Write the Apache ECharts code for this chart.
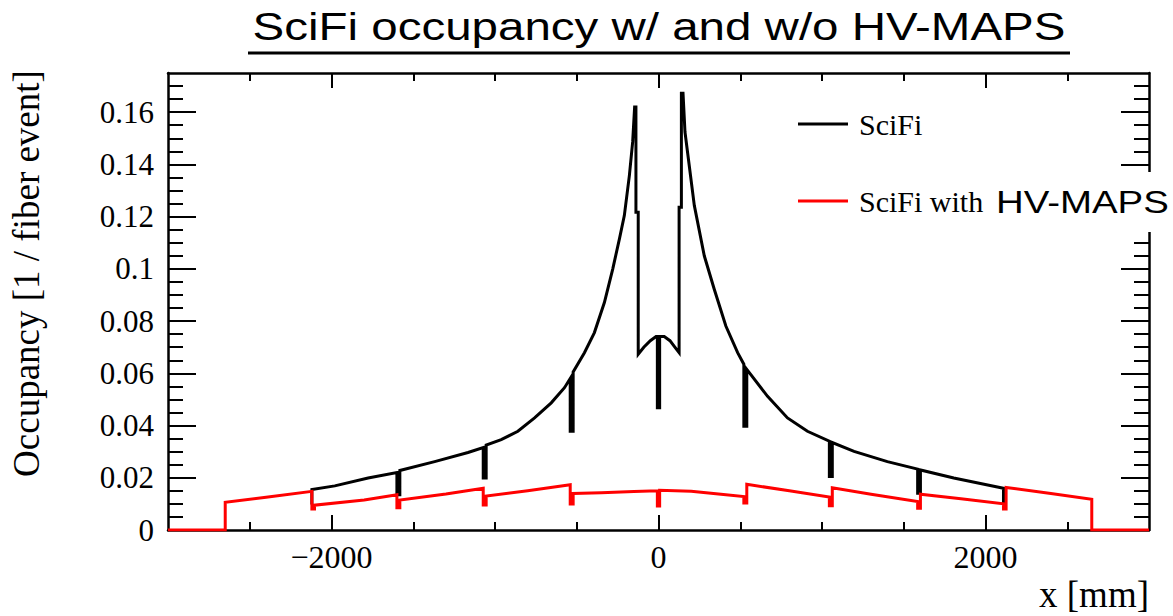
<!DOCTYPE html>
<html>
<head>
<meta charset="utf-8">
<script src="https://cdn.jsdelivr.net/npm/echarts@6/dist/echarts.min.js"></script>
<style>
  html, body { margin: 0; padding: 0; background: #fff; }
  #chart { width: 1173px; height: 616px; }
</style>
</head>
<body>
<div id="chart"></div>
<script>
// ---- data ----
const titleText = 'SciFi occupancy w/ and w/o HV-MAPS';
const seriesNames = ['SciFi', 'SciFi with'];
const overlayText = 'HV-MAPS';

const xMajorTicks = [-2000, 0, 2000];
const xMinorTicks = [-2500, -1500, -1000, -500, 500, 1000, 1500, 2500];
const yMajorTicks = [0, 0.02, 0.04, 0.06, 0.08, 0.1, 0.12, 0.14, 0.16];
const yMinorTicks = [0.005, 0.01, 0.015, 0.025, 0.03, 0.035, 0.045, 0.05, 0.055,
  0.065, 0.07, 0.075, 0.085, 0.09, 0.095, 0.105, 0.11, 0.115, 0.125, 0.13, 0.135,
  0.145, 0.15, 0.155, 0.165, 0.17];

// SciFi (black) outline: x [mm]
const blackX = [-2120, -2120, -1980, -1776, -1600, -1600, -1582, -1582, -1369, -1165,
  -1072, -1072, -1054, -1054, -962, -860, -758, -656, -575, -540, -540, -522, -522,
  -453, -392, -331, -280, -239, -209, -178, -158, -146, -138, -138, -124, -124,
  -90, -50, -15, -7, -7, 7, 7, 35, 70, 100, 126, 126, 140, 140, 150, 162, 219, 280,
  341, 412, 484, 522, 522, 540, 540, 667, 789, 911, 1045, 1045, 1063, 1063, 1196,
  1400, 1585, 1585, 1602, 1602, 1806, 2110, 2110];
// SciFi (black) occupancy
const blackY = [0.0098, 0.0155, 0.0169, 0.0199, 0.0220, 0.0135, 0.0135, 0.0228, 0.0262, 0.0297,
  0.0316, 0.0199, 0.0199, 0.0325, 0.0346, 0.0378, 0.0429, 0.0487, 0.0545, 0.0580, 0.0378, 0.0378, 0.0605,
  0.0679, 0.0756, 0.0871, 0.0999, 0.1115, 0.1204, 0.1358, 0.1486, 0.1620, 0.1620, 0.1217, 0.1217, 0.0673,
  0.0700, 0.0725, 0.0741, 0.0741, 0.0468, 0.0468, 0.0741, 0.0741, 0.0725, 0.0700, 0.0679, 0.1236, 0.1236, 0.1672, 0.1672, 0.1524, 0.1243, 0.1050,
  0.0922, 0.0781, 0.0679, 0.0635, 0.0397, 0.0397, 0.0615, 0.0512, 0.0429, 0.0378, 0.0340, 0.0205, 0.0205, 0.0335, 0.0301,
  0.0262, 0.0233, 0.0141, 0.0141, 0.0230, 0.0199, 0.0160, 0.0100];

// SciFi with HV-MAPS (red) outline: x [mm]
const redX = [-3000, -2650, -2650, -2400, -2120, -2120, -2104, -2104, -1800, -1600, -1600,
  -1582, -1582, -1300, -1072, -1072, -1054, -1054, -800, -540, -540, -522, -522,
  -350, -150, -7, -7, 7, 7, 200, 382, 522, 522, 540, 540, 800, 1045, 1045, 1063,
  1063, 1300, 1585, 1585, 1602, 1602, 1850, 2110, 2110, 2126, 2126, 2400, 2650, 2650, 3000];
// SciFi with HV-MAPS (red) occupancy
const redY = [0, 0, 0.0106, 0.0125, 0.0148, 0.0080, 0.0080, 0.0095, 0.0115, 0.0135, 0.0085,
  0.0085, 0.0115, 0.0138, 0.0160, 0.0096, 0.0096, 0.0130, 0.0150, 0.0173, 0.0100, 0.0100, 0.0140,
  0.0143, 0.0147, 0.0150, 0.0092, 0.0092, 0.0152, 0.0148, 0.0137, 0.0128, 0.0103, 0.0103, 0.0175, 0.0150, 0.0126, 0.0093, 0.0093,
  0.0162, 0.0137, 0.0109, 0.0083, 0.0083, 0.0137, 0.0120, 0.0100, 0.0080, 0.0080, 0.0163, 0.0140, 0.0118, 0, 0];

// ---- chart ----
const serif = 'Liberation Serif';
const sans = 'Liberation Sans';
const chart = echarts.init(document.getElementById('chart'), null, { renderer: 'svg' });

const lineStyle = { color: '#000', width: 2.5 };
function xAx(pos, ticks, len, showLine, labels) {
  return {
    type: 'value', position: pos, min: -3000, max: 3000,
    axisLine: { show: showLine, onZero: false, lineStyle: lineStyle },
    axisTick: { show: true, inside: true, length: len, customValues: ticks,
      lineStyle: { color: '#000', width: 2 } },
    axisLabel: labels ? {
      show: true, customValues: labels, margin: 11,
      fontFamily: serif, fontSize: 32, color: '#000',
      formatter: v => (v < 0 ? '\u2212' + Math.abs(v) : String(v))
    } : { show: false },
    splitLine: { show: false }
  };
}
function yAx(pos, ticks, len, showLine, labels) {
  return {
    type: 'value', position: pos, min: 0, max: 0.175,
    axisLine: { show: showLine, onZero: false, lineStyle: lineStyle },
    axisTick: { show: true, inside: true, length: len, customValues: ticks,
      lineStyle: { color: '#000', width: 2 } },
    axisLabel: labels ? {
      show: true, customValues: labels, margin: 14,
      fontFamily: serif, fontSize: 31, color: '#000',
      formatter: v => String(+(+v).toFixed(3))
    } : { show: false },
    splitLine: { show: false }
  };
}

const xMain = xAx('bottom', xMajorTicks, 15, true, xMajorTicks);
xMain.name = 'x [mm]';
xMain.nameLocation = 'end';
xMain.nameGap = 0;
xMain.nameTextStyle = { fontFamily: serif, fontSize: 37, color: '#000',
  align: 'right', verticalAlign: 'top', padding: [46, 0, 0, 0] };

const yMain = yAx('left', yMajorTicks, 28, true, yMajorTicks);
yMain.name = 'Occupancy [1 / fiber event]';
yMain.nameLocation = 'middle';
yMain.nameGap = 123;
yMain.nameTextStyle = { fontFamily: serif, fontSize: 37, color: '#000', padding: [0, 0, 0, 56] };

chart.setOption({
  animation: false,
  backgroundColor: '#fff',
  grid: { left: 168, right: 24, top: 73, bottom: 86, containLabel: false },
  xAxis: [
    xMain,
    xAx('bottom', xMinorTicks, 8, false, null),
    xAx('top', xMajorTicks, 15, true, null),
    xAx('top', xMinorTicks, 8, false, null)
  ],
  yAxis: [
    yMain,
    yAx('left', yMinorTicks, 15, false, null),
    yAx('right', yMajorTicks, 28, true, null),
    yAx('right', yMinorTicks, 15, false, null)
  ],
  legend: {
    orient: 'vertical', left: 798, top: 108, padding: 0,
    itemWidth: 50, itemHeight: 3, itemGap: 45, icon: 'rect',
    data: seriesNames,
    textStyle: { fontFamily: serif, fontSize: 30, lineHeight: 32, color: '#000', padding: [0, 0, 0, 6] },
    selectedMode: false
  },
  series: [
    {
      name: seriesNames[0], type: 'line', xAxisIndex: 0, yAxisIndex: 0,
      data: blackX.map((x, i) => [x, blackY[i]]),
      symbol: 'none', silent: true, z: 2,
      color: '#000',
      lineStyle: { color: '#000', width: 3, join: 'miter' }
    },
    {
      name: seriesNames[1], type: 'line', xAxisIndex: 0, yAxisIndex: 0,
      data: redX.map((x, i) => [x, redY[i]]),
      symbol: 'none', silent: true, z: 3,
      color: '#ff0000',
      lineStyle: { color: '#ff0000', width: 3, join: 'miter' }
    }
  ],
  graphic: [
    {
      type: 'text', x: 659, y: 46, scaleX: 1.25, z: 10,
      style: { text: titleText, fontFamily: sans, fontSize: 38, fill: '#000',
        textAlign: 'center', textVerticalAlign: 'bottom' }
    },
    {
      type: 'line', z: 10,
      shape: { x1: 248, y1: 53, x2: 1070, y2: 53 },
      style: { stroke: '#000', lineWidth: 3 }
    },
    {
      type: 'rect', z: 20,
      shape: { x: 990, y: 172, width: 183, height: 60 },
      style: { fill: '#fff' }
    },
    {
      type: 'text', x: 996, y: 202, scaleX: 1.2, z: 21,
      style: { text: overlayText, fontFamily: sans, fontSize: 32, fill: '#000',
        textAlign: 'left', textVerticalAlign: 'middle' }
    }
  ]
});
</script>
</body>
</html>
